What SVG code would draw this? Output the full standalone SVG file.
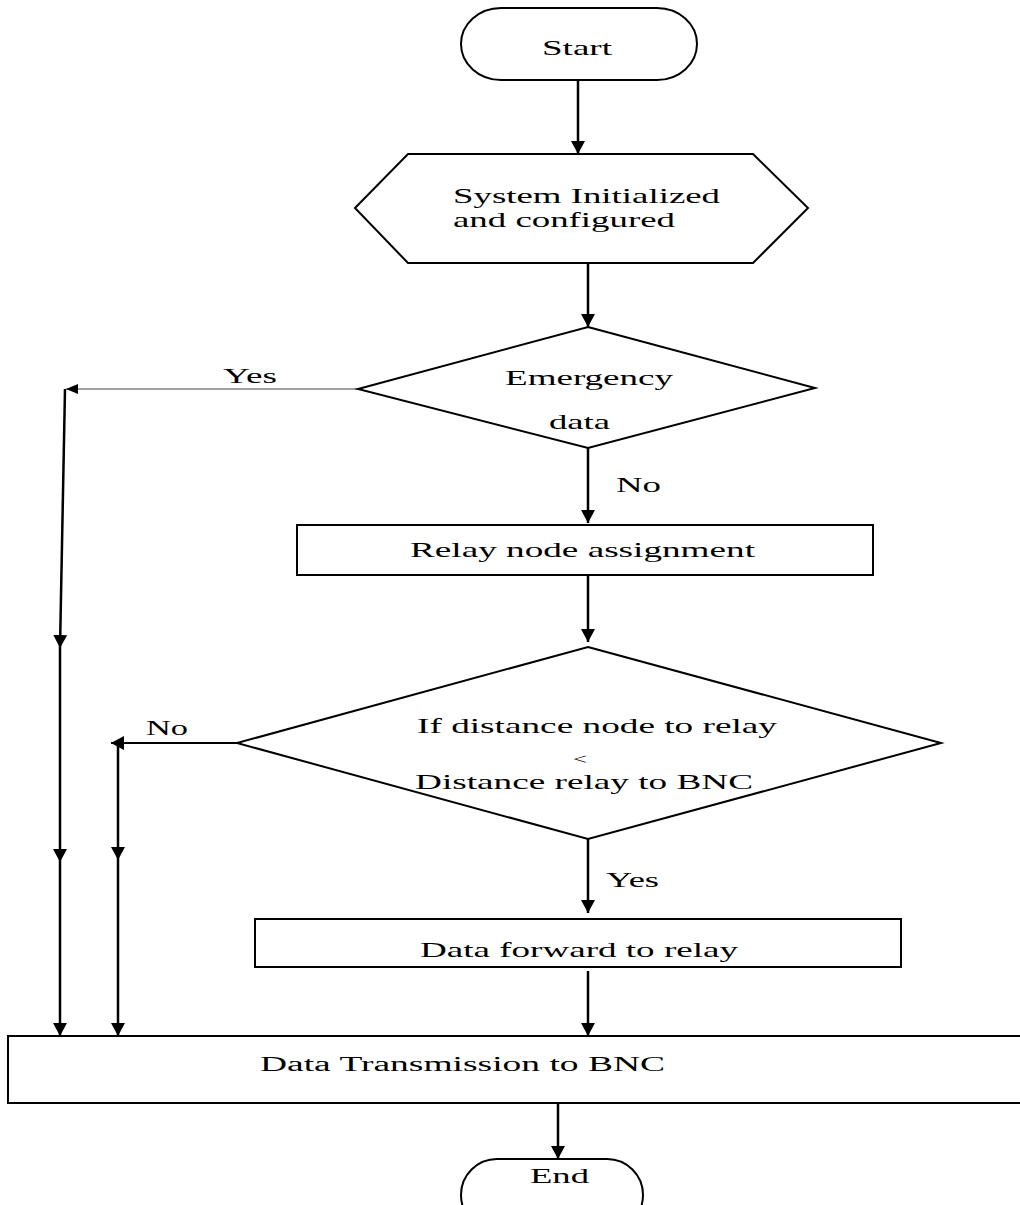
<svg xmlns="http://www.w3.org/2000/svg" width="1020" height="1205" viewBox="0 0 1020 1205">
<style>
.shape{fill:#fff;stroke:#000;stroke-width:2}
.t{font-family:"Liberation Serif","Times New Roman",serif;font-size:22px;fill:#000}
.c{fill:none;stroke:#000;stroke-width:2.5}
.g{fill:none;stroke:#808080;stroke-width:1.5}
</style>
<defs>
<marker id="ah" markerUnits="userSpaceOnUse" markerWidth="14" markerHeight="14" viewBox="0 0 14 14" refX="13" refY="7" orient="auto">
<path d="M0,0 L13,7 L0,14 z" fill="#000"/>
</marker>
<marker id="ahs" markerUnits="userSpaceOnUse" markerWidth="12" markerHeight="10" viewBox="0 0 12 10" refX="12" refY="5" orient="auto">
<path d="M0,0 L12,5 L0,10 z" fill="#000"/>
</marker>
</defs>
<rect width="1020" height="1205" fill="#fff"/>
<g id="connectors">
<line class="c" x1="578" y1="80" x2="578" y2="154" marker-end="url(#ah)"/>
<line class="c" x1="588" y1="263" x2="588" y2="327" marker-end="url(#ah)"/>
<line class="g" x1="358" y1="389" x2="66" y2="389" marker-end="url(#ahs)"/>
<line class="c" x1="65" y1="389" x2="60" y2="648" marker-end="url(#ah)"/>
<line class="c" x1="60" y1="648" x2="60" y2="862" marker-end="url(#ah)"/>
<line class="c" x1="60" y1="862" x2="60" y2="1036" marker-end="url(#ah)"/>
<line class="c" x1="588" y1="448" x2="588" y2="523" marker-end="url(#ah)"/>
<line class="c" x1="588" y1="575" x2="588" y2="642" marker-end="url(#ah)"/>
<line class="c" style="stroke-width:2" x1="237" y1="743" x2="111" y2="743" marker-end="url(#ah)"/>
<line class="c" x1="118" y1="743" x2="118" y2="860" marker-end="url(#ah)"/>
<line class="c" x1="118" y1="860" x2="118" y2="1036" marker-end="url(#ah)"/>
<line class="c" x1="588" y1="839" x2="588" y2="913" marker-end="url(#ah)"/>
<line class="c" x1="588" y1="971" x2="588" y2="1036" marker-end="url(#ah)"/>
<line class="c" x1="558" y1="1103" x2="558" y2="1159" marker-end="url(#ah)"/>
<text class="t" x="223" y="383" textLength="54" lengthAdjust="spacingAndGlyphs">Yes</text>
<text class="t" x="616" y="492" textLength="45" lengthAdjust="spacingAndGlyphs">No</text>
<text class="t" x="146" y="735" textLength="42" lengthAdjust="spacingAndGlyphs">No</text>
<text class="t" x="606" y="887" textLength="53" lengthAdjust="spacingAndGlyphs">Yes</text>
</g>
<g id="start">
<rect class="shape" x="461" y="8" width="236" height="72" rx="40" ry="36"/>
<text class="t" x="542" y="55" textLength="70" lengthAdjust="spacingAndGlyphs">Start</text>
</g>
<g id="init">
<polygon class="shape" points="355,208 408,154 753,154 808,208 753,263 408,263"/>
<text class="t" x="453" y="203" textLength="267" lengthAdjust="spacingAndGlyphs">System Initialized</text>
<text class="t" x="453" y="227" textLength="222" lengthAdjust="spacingAndGlyphs">and configured</text>
</g>
<g id="emergency">
<polygon class="shape" points="588,327 815,388 588,448 358,389"/>
<text class="t" x="505" y="385" textLength="168" lengthAdjust="spacingAndGlyphs">Emergency</text>
<text class="t" x="549" y="429" textLength="61" lengthAdjust="spacingAndGlyphs">data</text>
</g>
<g id="relay">
<rect class="shape" x="297" y="525" width="576" height="50"/>
<text class="t" x="410" y="557" textLength="345" lengthAdjust="spacingAndGlyphs">Relay node assignment</text>
</g>
<g id="distance">
<polygon class="shape" points="588,647 941,743 588,839 237,743"/>
<text class="t" x="417" y="733" textLength="360" lengthAdjust="spacingAndGlyphs">If distance node to relay</text>
<text class="t" style="font-size:14px" x="573" y="764" textLength="14" lengthAdjust="spacingAndGlyphs">&lt;</text>
<text class="t" x="415" y="789" textLength="338" lengthAdjust="spacingAndGlyphs">Distance relay to BNC</text>
</g>
<g id="forward">
<rect class="shape" x="255" y="919" width="646" height="48"/>
<text class="t" x="420" y="957" textLength="318" lengthAdjust="spacingAndGlyphs">Data forward to relay</text>
</g>
<g id="transmission">
<rect class="shape" x="8" y="1036" width="1030" height="67"/>
<text class="t" style="font-size:20px" x="260" y="1071" textLength="405" lengthAdjust="spacingAndGlyphs">Data Transmission to BNC</text>
</g>
<g id="end">
<rect class="shape" x="461" y="1159" width="182" height="72" rx="36" ry="36"/>
<text class="t" x="530" y="1183" textLength="59" lengthAdjust="spacingAndGlyphs">End</text>
</g>
</svg>
